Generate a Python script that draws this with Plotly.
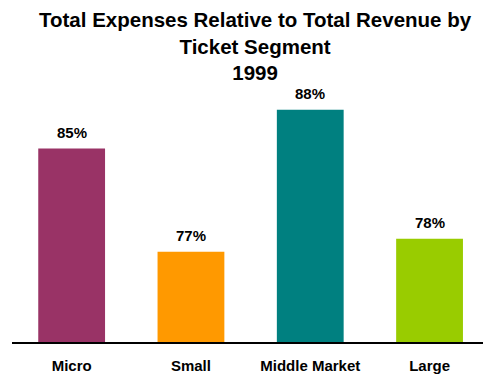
import plotly.graph_objects as go

# Expense-to-revenue ratio (%) per ticket segment, 1999
segments = ["Micro", "Small", "Middle Market", "Large"]
expense_ratio = [85, 77, 88, 78]
bar_colors = ["#993366", "#FF9900", "#008080", "#99CC00"]
value_labels = [f"<b>{v}%</b>" for v in expense_ratio]
tick_labels = [f"<b>{s}</b>" for s in segments]
title_lines = ["Total Expenses Relative to Total Revenue by", "Ticket Segment", "1999"]

FONT = "Arial, 'Liberation Sans', sans-serif"

# plot area: 12..483 px horizontally, 95..342 px vertically
PLOT_L, PLOT_R, PLOT_T, PLOT_B = 12, 483, 95, 342
plot_h = PLOT_B - PLOT_T

fig = go.Figure(
    go.Bar(
        x=list(range(len(segments))),
        y=expense_ratio,
        marker=dict(color=bar_colors, line=dict(width=0)),
        width=0.56,
        hoverinfo="skip",
    )
)

# value labels above each bar
for i, (v, lab) in enumerate(zip(expense_ratio, value_labels)):
    fig.add_annotation(
        x=i, y=v, xref="x", yref="y",
        text=lab, showarrow=False,
        xanchor="center", yanchor="bottom", yshift=6,
        font=dict(family=FONT, size=15, color="black"),
    )

# chart title
fig.add_annotation(
    x=(255 - PLOT_L) / (PLOT_R - PLOT_L), xref="paper",
    y=1 + (PLOT_T - 6) / plot_h, yref="paper",
    xanchor="center", yanchor="top",
    text="<b>" + "<br>".join(title_lines) + "</b>",
    showarrow=False, align="center",
    font=dict(family=FONT, size=20.5, color="black"),
)

fig.update_layout(
    width=483,
    height=377,
    margin=dict(l=PLOT_L, r=483 - PLOT_R, t=PLOT_T, b=377 - PLOT_B),
    paper_bgcolor="white",
    plot_bgcolor="white",
    showlegend=False,
    xaxis=dict(
        range=[-0.5, 3.448],
        tickmode="array",
        tickvals=list(range(len(segments))),
        ticktext=tick_labels,
        tickfont=dict(family=FONT, size=15, color="black"),
        showline=True,
        linecolor="black",
        linewidth=1.5,
        ticks="",
        ticklabelstandoff=9,
        showgrid=False,
        zeroline=False,
    ),
    yaxis=dict(
        range=[70, 89.15],
        visible=False,
        showgrid=False,
        zeroline=False,
    ),
)

fig.write_html("out.html")
